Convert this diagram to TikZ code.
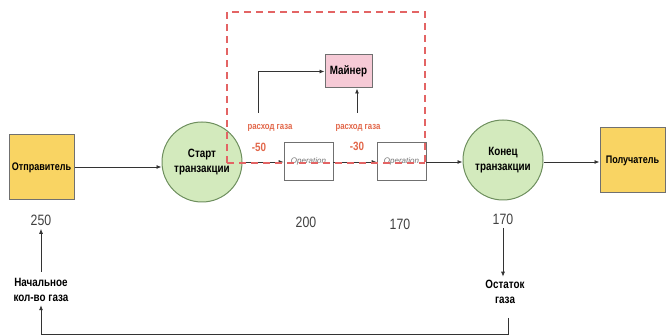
\documentclass[tikz,border=0pt]{standalone}
\usepackage{fontspec}
\setmainfont{Liberation Sans}
\newfontfamily\narrow[FakeStretch=0.82]{Liberation Sans}
\usetikzlibrary{arrows.meta}
\definecolor{ybox}{HTML}{F9D463}
\definecolor{gfill}{HTML}{D3EABD}
\definecolor{gline}{HTML}{6E8F5E}
\definecolor{pfill}{HTML}{F6CAD6}
\definecolor{rdash}{HTML}{E36464}
\definecolor{otext}{HTML}{E2674A}
\definecolor{bord}{HTML}{707070}
\tikzset{
  actor/.style={draw=bord, line width=1pt, fill=ybox, minimum width=65pt, minimum height=65pt, inner sep=0pt, font=\narrow\bfseries\fontsize{11}{13}\selectfont},
  txstate/.style={circle, draw=gline, line width=1pt, fill=gfill, minimum size=80pt, inner sep=0pt, align=center, font=\narrow\bfseries\fontsize{12}{15}\selectfont},
  opbox/.style={draw=bord, line width=0.6pt, fill=white, minimum width=49pt, minimum height=38pt, inner sep=0pt, font=\itshape\fontsize{8}{9}\selectfont, text=black!55},
  minerbox/.style={draw=bord, line width=1pt, fill=pfill, minimum width=47pt, minimum height=33pt, inner sep=0pt, font=\narrow\bfseries\fontsize{12}{14}\selectfont},
  num/.style={font=\narrow\fontsize{15}{17}\selectfont, text=black!75},
  lbl/.style={align=center, font=\narrow\bfseries\fontsize{12}{15}\selectfont},
  gas/.style={font=\narrow\bfseries\fontsize{9.5}{11}\selectfont, text=otext},
  gasnum/.style={font=\narrow\bfseries\fontsize{12}{14}\selectfont, text=otext},
  arr/.style={draw=black!80, line width=0.8pt, -{Latex[length=5pt,width=4pt]}},
  ln/.style={draw=black!80, line width=0.8pt},
  reddash/.style={draw=rdash, line width=1.3pt, dash pattern=on 7pt off 5pt}
}
\begin{document}
\begin{tikzpicture}[x=1pt,y=-1pt]
\useasboundingbox (0,0) rectangle (666,336);
% nodes
\node[actor] (snd) at (41.5,167.5) {Отправитель};
\node[txstate] (start) at (202,162) {Старт\\транзакции};
\node[opbox] (op1) at (308.5,161) {Operation};
\node[opbox] (op2) at (401.5,161) {Operation};
\node[minerbox] (miner) at (348.5,71.5) {Майнер};
\node[txstate] (end) at (503,160) {Конец\\транзакции};
\node[actor] (rcv) at (632.5,160.5) {Получатель};
\node[num] (n250) at (41,220) {250};
\node[num] (n200) at (306,222) {200};
\node[num] (n170a) at (400,224) {170};
\node[num] (n170b) at (503,219) {170};
\node[lbl] (init) at (41,290) {Начальное\\кол-во газа};
\node[lbl] (rest) at (505,292) {Остаток\\газа};
\node[gas] (g1) at (270,128) {расход газа};
\node[gasnum] (v1) at (259,147) {-50};
\node[gas] (g2) at (358,128) {расход газа};
\node[gasnum] (v2) at (357,146) {-30};
% coordinates
\coordinate (m1) at (258,113);
\coordinate (m2) at (357,113);
\coordinate (b1) at (508,318);
\coordinate (bl) at (41,334);
\coordinate (br) at (508,334);
% connectors
\draw[arr] (snd.east |- 0,167) -- (start.west |- 0,167);
\draw[arr] (start.east |- 0,162) -- (op1.west |- 0,162);
\draw[arr] (op1.east |- 0,162) -- (op2.west |- 0,162);
\draw[arr] (op2.east |- 0,162) -- (end.west |- 0,162);
\draw[arr] (end.east |- 0,162) -- (rcv.west |- 0,162);
\draw[arr] (m1) |- (miner.west);
\draw[arr] (m2) -- (m2 |- miner.south);
\draw[arr] (n250.south |- 0,272) -- (n250.south);
\draw[arr] (n170b.south) -- (rest.north -| n170b.south);
\draw[ln] (b1) -- (br) -- (bl);
\draw[arr] (bl) -- (init.south);
% dashed frame
\draw[reddash] (227,163) -- (227,12) -- (425,12) -- (425,163);
\draw[reddash] (227,163) -- (425,163);
\end{tikzpicture}
\end{document}
